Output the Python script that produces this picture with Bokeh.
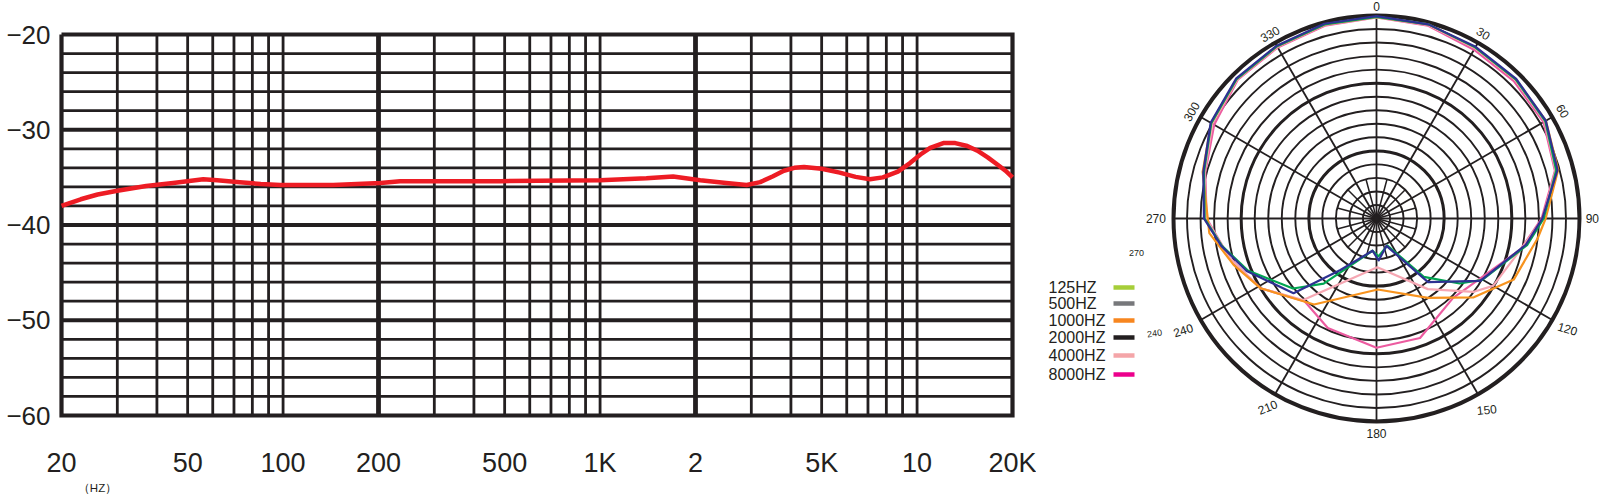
import numpy as np
from bokeh.plotting import figure
from bokeh.models import Range1d
from bokeh.layouts import row
from bokeh.embed import file_html
from bokeh.resources import INLINE
from bokeh.core.properties import value

# ---------------- frequency response data ----------------
freq_hz = [20, 23, 26, 30, 37, 45, 56, 62, 73, 85, 98, 144, 203, 234, 485, 1000, 1400,
           1700, 2070, 2500, 2900, 3200, 3500, 3800, 4100, 4400, 5000, 5700, 6400, 7100,
           7800, 8700, 9500, 10250, 11000, 12100, 13200, 14400, 15500, 16700, 18000,
           19000, 20000]
response_db = [-38.0, -37.3, -36.8, -36.4, -35.9, -35.6, -35.2, -35.3, -35.5, -35.7, -35.8,
               -35.8, -35.6, -35.4, -35.4, -35.3, -35.1, -34.9, -35.3, -35.6, -35.8, -35.5,
               -34.9, -34.3, -34.0, -33.9, -34.1, -34.5, -34.95, -35.2, -35.0, -34.4, -33.5,
               -32.6, -31.9, -31.4, -31.4, -31.7, -32.2, -32.9, -33.7, -34.3, -35.0]

f_min, f_max = 20, 20000
db_min, db_max = -60, -20
y_ticks = [-20, -30, -40, -50, -60]
y_tick_labels = ["−20", "−30", "−40", "−50", "−60"]
x_ticks = [20, 50, 100, 200, 500, 1000, 2000, 5000, 10000, 20000]
x_tick_labels = ["20", "50", "100", "200", "500", "1K", "2", "5K", "10", "20K"]
unit_label = "（HZ）"
grid_x_minor = [30, 40, 50, 60, 70, 80, 90, 100, 300, 400, 500, 600, 700, 800, 900,
                1000, 3000, 4000, 5000, 6000, 7000, 8000, 9000, 10000]
grid_x_major = [200, 2000]
grid_y_minor = [-22, -24, -26, -28, -32, -34, -36, -38, -42, -44, -46, -48,
                -52, -54, -56, -58]
grid_y_major = [-30, -40, -50]

# ---------------- polar data ----------------
polar_label_angles = [0, 30, 60, 90, 120, 150, 180, 210, 240, 270, 300, 330]
polar_label_texts = ["0", "30", "60", "90", "120", "150", "180", "210", "240", "270", "300", "330"]
ring_levels_db = [-28, -26, -24, -22, -20, -18, -16, -14, -12, -10, -8, -6, -4, -2, 0]

green_ang = [0, 15, 30, 45, 60, 75, 90, 100, 120, 128, 141, 158, 177, 187, 219, 230, 248, 260, 270, 285, 300, 315, 330, 345, 360]
green_db = [-0.2, -0.3, -0.8, -0.9, -1.2, -2.5, -5.3, -7.4, -11.9, -14.4, -18.9, -25.7, -24.4, -25.2, -17.6, -13.9, -9.5, -6.8, -4.6, -3.6, -1.8, -0.8, -0.6, -0.3, -0.2]
blue_ang = [0, 15, 30, 45, 60, 75, 90, 100, 121, 141, 160, 177, 187, 215, 228, 248, 260, 270, 285, 300, 315, 330, 345, 360]
blue_db = [-0.1, -0.3, -0.7, -0.8, -1.1, -2.3, -5.5, -7.6, -12.1, -17.9, -25.7, -23.8, -25.2, -20.7, -13.5, -9.3, -6.7, -4.5, -3.5, -1.7, -0.7, -0.5, -0.2, -0.1]
lpink_ang = [0, 15, 30, 45, 60, 75, 90, 100, 120, 127, 144, 179, 222, 239, 255, 270, 285, 300, 315, 330, 345, 360]
lpink_db = [-0.3, -0.4, -0.9, -1.0, -1.3, -2.6, -5.4, -7.8, -10.1, -12.0, -17.1, -22.8, -13.8, -10.0, -7.5, -4.8, -3.7, -2.0, -0.9, -0.7, -0.4, -0.3]
orange_ang = [0, 15, 30, 45, 60, 75, 90, 97, 114, 129, 147, 179, 216, 239, 252, 265, 285, 300, 315, 330, 345, 360]
orange_db = [-0.2, -0.3, -0.8, -0.9, -1.1, -2.2, -5.0, -6.0, -7.8, -11.5, -16.0, -19.5, -14.3, -10.0, -7.8, -5.2, -3.4, -1.8, -0.8, -0.6, -0.3, -0.2]
pink_ang = [0, 15, 30, 45, 60, 75, 90, 102, 127, 136, 160, 180, 204, 221, 239, 255, 270, 285, 300, 315, 330, 345, 360]
pink_db = [-0.3, -0.5, -1.2, -1.3, -1.5, -2.7, -5.6, -8.2, -13.1, -13.7, -11.2, -10.9, -12.3, -13.8, -10.0, -7.5, -4.9, -3.8, -2.3, -1.0, -0.8, -0.5, -0.3]

legend_labels = ["125HZ", "500HZ", "1000HZ", "2000HZ", "4000HZ", "8000HZ"]
legend_colors = ["#A6CE39", "#77787B", "#F7861F", "#231F20", "#F4A5A8", "#EC008C"]

INK = "#231F20"
FONT = value("Liberation Sans")
H = 496

# ================= left: frequency response =================
# chart box in page pixels: x 61..1012, y 34..415 (frame covers whole canvas)
W1 = 1036
X0, X1, Y0, Y1 = 61, 1012, 34, 415
dec_px = (X1 - X0) / np.log10(f_max / f_min)
db_px = (Y1 - Y0) / (db_max - db_min)

def fx(p):
    return f_min * 10 ** ((p - X0) / dec_px)

def fy(p):
    return db_max - (p - Y0) / db_px

p1 = figure(width=W1, height=H, x_axis_type="log", x_axis_location=None,
            y_axis_location=None, title=None,
            x_range=Range1d(fx(0), fx(W1)), y_range=Range1d(fy(H), fy(0)),
            min_border=0, min_border_left=0, min_border_right=0,
            min_border_top=0, min_border_bottom=0,
            toolbar_location=None, output_backend="svg")
p1.grid.visible = False
p1.outline_line_color = None
p1.background_fill_color = "white"
p1.border_fill_color = "white"

# grid
p1.segment(x0=grid_x_minor, y0=db_min, x1=grid_x_minor, y1=db_max, line_color=INK, line_width=2.8)
p1.segment(x0=grid_x_major, y0=db_min, x1=grid_x_major, y1=db_max, line_color=INK, line_width=4.8)
p1.segment(x0=f_min, y0=grid_y_minor, x1=f_max, y1=grid_y_minor, line_color=INK, line_width=2.8)
p1.segment(x0=f_min, y0=grid_y_major, x1=f_max, y1=grid_y_major, line_color=INK, line_width=4.0)
p1.line([f_min, f_max, f_max, f_min, f_min], [db_max, db_max, db_min, db_min, db_max],
        line_color=INK, line_width=4.2, line_join="miter")

# curve
p1.line(freq_hz, response_db, line_color="#ED1C24", line_width=4.5, line_join="round")

# tick labels
p1.text(x=[fx(50)] * len(y_ticks), y=y_ticks, text=y_tick_labels, text_font=FONT,
        text_font_size="26px", text_color=INK, text_align="right", text_baseline="middle")
p1.text(x=x_ticks, y=[fy(462)] * len(x_ticks), text=x_tick_labels, text_font=FONT,
        text_font_size="27px", text_color=INK, text_align="center", text_baseline="middle")
p1.text(x=[fx(97)], y=[fy(487)], text=[unit_label], text_font=FONT,
        text_font_size="11.5px", text_color=INK, text_align="center", text_baseline="middle")

# ================= right: polar pattern =================
FIG2_LEFT = W1
W2 = 1600 - FIG2_LEFT
CX, CY = 1376 - FIG2_LEFT, 218       # centre in figure pixels
S = 203 / 30.0                       # pixels per dB

def px(x):
    return (x - FIG2_LEFT - CX) / S

def py(y):
    return (CY - y) / S

p2 = figure(width=W2, height=H, x_axis_type=None, y_axis_type=None, title=None,
            x_range=Range1d(-CX / S, (W2 - CX) / S),
            y_range=Range1d(-(H - CY) / S, CY / S),
            min_border=0, min_border_left=0, min_border_right=0,
            min_border_top=0, min_border_bottom=0,
            toolbar_location=None, output_backend="svg")
p2.grid.visible = False
p2.outline_line_color = None

# rings
thin = [30 + d for d in ring_levels_db if d % 10 != 0]
thick = [30 + d for d in ring_levels_db if d % 10 == 0 and d != 0]
p2.circle(x=[0] * len(thin), y=[0] * len(thin), radius=thin, fill_color=None,
          line_color=INK, line_width=1.9)
p2.circle(x=[0] * len(thick), y=[0] * len(thick), radius=thick, fill_color=None,
          line_color=INK, line_width=3.0)
p2.circle(x=[0], y=[0], radius=[30], fill_color=None, line_color=INK, line_width=4.0)

# spokes
a = np.radians(polar_label_angles)
p2.segment(x0=0, y0=0, x1=30 * np.sin(a), y1=30 * np.cos(a), line_color=INK, line_width=1.8)
a15 = np.radians(np.array(polar_label_angles) + 15)
p2.segment(x0=0, y0=0, x1=6 * np.sin(a15), y1=6 * np.cos(a15), line_color=INK, line_width=1.5)
p2.scatter(x=[0], y=[0], size=5, color=INK)

# curves
def pol(ang, db):
    t = np.radians(ang)
    r = 30 + np.array(db)
    return r * np.sin(t), r * np.cos(t)

for ang, db, col in [(pink_ang, pink_db, "#EC5BA0"),
                     (lpink_ang, lpink_db, "#F6A7B3"),
                     (orange_ang, orange_db, "#F7931E"),
                     (green_ang, green_db, "#00A651"),
                     (blue_ang, blue_db, "#2E3192")]:
    xs, ys = pol(ang, db)
    p2.line(xs, ys, line_color=col, line_width=2.2, line_join="round")

# angle labels
label_r = [31.3, 31.6, 31.8, 31.9, 32.6, 32.6, 31.8, 32.2, 33.0, 32.6, 31.6, 31.5]
label_rot = [0, -32, -60, 0, -17, 6, 0, 22, 18, 0, 60, 30]
ta = np.radians(polar_label_angles)
p2.text(x=np.array(label_r) * np.sin(ta), y=np.array(label_r) * np.cos(ta),
        text=polar_label_texts, angle=np.radians(label_rot),
        text_font=FONT, text_font_size="12px", text_color=INK,
        text_align="center", text_baseline="middle")

# stray small labels
p2.text(x=[px(1136), px(1154)], y=[py(252), py(333)], text=["270", "240"],
        angle=[0, np.radians(8)], text_font=FONT, text_font_size="9px",
        text_color=INK, text_align="center", text_baseline="middle")

# legend
leg_y = [287, 303, 320, 337, 355, 374]
p2.text(x=[px(1048)] * 6, y=[py(v) for v in leg_y], text=legend_labels,
        text_font=FONT, text_font_size="16px", text_color=INK,
        text_align="left", text_baseline="middle")
p2.segment(x0=[px(1113)] * 6, y0=[py(v) for v in leg_y],
           x1=[px(1134)] * 6, y1=[py(v) for v in leg_y],
           line_color=legend_colors, line_width=4.5)

layout = row(p1, p2, spacing=0)
open("out.html", "w").write(file_html(layout, INLINE))
